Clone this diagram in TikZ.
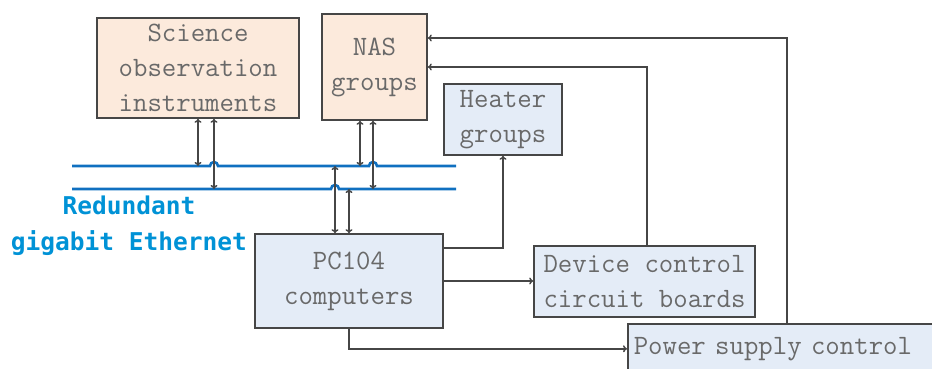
\documentclass[tikz,border=0pt]{standalone}
\usepackage{fontspec}
\newfontfamily\labelfont{DejaVu Sans Mono}
\usepackage{xcolor}
\usetikzlibrary{arrows,arrows.meta,shapes,positioning,calc}

\definecolor{peach}{RGB}{252,234,220}
\definecolor{paleblue}{RGB}{228,236,247}
\definecolor{edgegray}{RGB}{70,70,70}
\definecolor{textgray}{RGB}{105,105,105}
\definecolor{busblue}{RGB}{16,112,192}
\definecolor{labelblue}{RGB}{0,146,214}

\tikzset{
  block/.style={draw=edgegray, line width=1.6pt, rectangle, inner sep=0pt, align=center,
    text=textgray, font=\ttfamily\fontsize{28}{35}\selectfont},
  warm/.style={block, fill=peach},
  cool/.style={block, fill=paleblue},
  bus/.style={draw=busblue, line width=2.6pt},
  flow/.style={draw=edgegray, line width=1.5pt}
}

\begin{document}
\begin{tikzpicture}[x=1pt, y=1pt, >={To[length=4pt,width=7pt]}]
\useasboundingbox (0,0) rectangle (932,-369);

% Blocks
\node[warm, minimum width=202, minimum height=100] (sci) at (198,-68) {Science\\observation\\instruments};
\node[warm, minimum width=105, minimum height=106] (nas) at (374.5,-67) {NAS\\groups};
\node[cool, minimum width=118, minimum height=71] (heat) at (503,-119.5) {Heater\\groups};
\node[cool, minimum width=188, minimum height=94] (pc) at (349,-281) {PC104\\computers};
\node[cool, minimum width=221, minimum height=71] (dev) at (644.5,-281.5) {Device control\\circuit boards};
\node[cool, anchor=north west, minimum height=50, text width=306, inner xsep=6, align=left] (pow) at (627,-323) {Power supply control};

% Ethernet
\coordinate (busA) at (72,-166);
\coordinate (busB) at (72,-189);
\draw[bus] (busA) -- (210,-166) arc[start angle=180, end angle=0, radius=4]
  -- (369,-166) arc[start angle=180, end angle=0, radius=4] -- (456,-166);
\draw[bus] (busB) -- (331,-189) arc[start angle=180, end angle=0, radius=4] -- (456,-189);
\node[font=\labelfont\bfseries\fontsize{24.5}{36}\selectfont, text=labelblue, align=center] (eth) at (129,-226) {Redundant\\gigabit Ethernet};

% Links to the bus
\draw[flow, <->] (sci.south) -- (sci.south |- busA);
\draw[flow, <->] ([xshift=16]sci.south) -- ([xshift=16]sci.south |- busB);
\draw[flow, <->] ([xshift=-14.5]nas.south) -- ([xshift=-14.5]nas.south |- busA);
\draw[flow, <->] ([xshift=-1.5]nas.south) -- ([xshift=-1.5]nas.south |- busB);
\draw[flow, <->] ([xshift=-14]pc.north) -- ([xshift=-14]pc.north |- busA);
\draw[flow, <->] (pc.north) -- (pc.north |- busB);

% Flows
\draw[flow, ->] ([yshift=33]pc.east) -| (heat.south);
\draw[flow, ->] (pc.east) -- (pc.east -| dev.west);
\draw[flow, ->] (pc.south) |- (pow.west);
\draw[flow, ->] ([xshift=2.5]dev.north) |- (nas.east);
\draw[flow, ->] (pow.north) |- ([yshift=29]nas.east);

\end{tikzpicture}
\end{document}
